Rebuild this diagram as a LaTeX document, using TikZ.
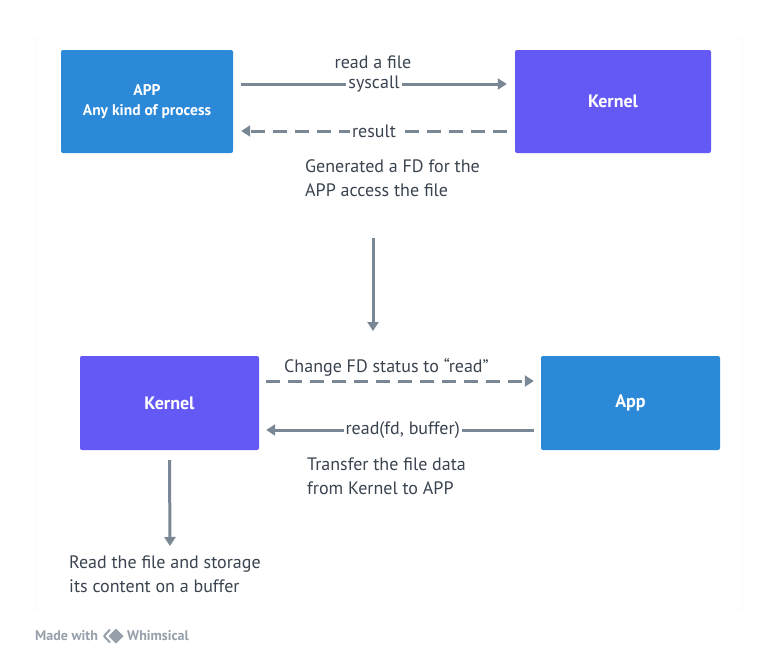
\documentclass[tikz,border=0pt]{standalone}
\usepackage{fontspec}
\setmainfont{PT Sans}
\usetikzlibrary{arrows.meta}
\definecolor{appblue}{RGB}{43,137,216}
\definecolor{kernpurple}{RGB}{101,89,245}
\definecolor{conngrey}{RGB}{122,135,148}
\definecolor{txtdark}{RGB}{58,68,80}
\definecolor{footgrey}{RGB}{150,160,170}
\tikzset{
  boxbase/.style={rectangle, rounded corners=2pt, text=white, font=\fontsize{18}{20}\selectfont\bfseries, align=center, inner sep=0pt},
  appbox/.style={boxbase, fill=appblue},
  kernbox/.style={boxbase, fill=kernpurple},
  conn/.style={draw=conngrey, line width=3pt, -{Triangle[length=9pt,width=11pt]}},
  dconn/.style={conn, dash pattern=on 14pt off 8pt},
  lbl/.style={fill=white, text=txtdark, font=\fontsize{18}{24}\selectfont, inner sep=2pt},
  note/.style={text=txtdark, font=\fontsize{18}{24}\selectfont, align=left, inner sep=0pt, anchor=west},
}
\begin{document}
\begin{tikzpicture}[x=1pt,y=-1pt]
\useasboundingbox (0,0) rectangle (777,662);
\fill[white] (0,0) rectangle (777,662);
% card
\draw[black!4, fill=white, rounded corners=4pt] (35,38) rectangle (742,610);
% boxes
\node[appbox, minimum width=172pt, minimum height=103pt, font=\fontsize{15.5}{20}\selectfont\bfseries] (app) at (147,101.5) {APP\\Any kind of process};
\node[kernbox, minimum width=196pt, minimum height=103pt] (kern1) at (613,101.5) {Kernel};
\node[kernbox, minimum width=179pt, minimum height=94pt] (kern2) at (169.5,403) {Kernel};
\node[appbox, minimum width=179pt, minimum height=94pt] (app2) at (630.5,403) {App};
% top arrows
\draw[conn] ([xshift=8pt,yshift=17.5pt]app.east) -- ([xshift=-8pt,yshift=17.5pt]kern1.west)
  node[lbl, pos=0.5] (sys) {syscall};
\node[text=txtdark, font=\fontsize{18}{24}\selectfont, inner sep=0pt] (rdf) at (373,62) {read a file};
\draw[dconn] ([xshift=-8pt,yshift=-29.5pt]kern1.west) -- ([xshift=8pt,yshift=-29.5pt]app.east)
  node[lbl, pos=0.5] (res) {result};
\node[note] (gen) at (305,178) {Generated a FD for the\\APP access the file};
% vertical arrow
\coordinate (v1) at (373,238);
\coordinate (v2) at (373,331);
\draw[conn] (v1) -- (v2);
% bottom arrows
\draw[dconn] ([xshift=7pt,yshift=22pt]kern2.east) -- ([xshift=-7pt,yshift=22pt]app2.west);
\node[text=txtdark, font=\fontsize{18}{24}\selectfont, inner sep=0pt, anchor=west] (chg) at (284,367) {Change FD status to “read”};
\draw[conn] ([xshift=-7pt,yshift=-27pt]app2.west) -- ([xshift=7pt,yshift=-27pt]kern2.east)
  node[lbl, pos=0.49] (rdb) {read(fd, buffer)};
\node[note] (tr) at (307,476) {Transfer the file data\\from Kernel to APP};
% kernel down arrow
\coordinate (v3) at (170,546);
\draw[conn] ([yshift=-10pt]kern2.south) -- (v3);
\node[note] (rd) at (69,574) {Read the file and storage\\its content on a buffer};
% footer
\node[text=footgrey, font=\fontsize{14}{16}\selectfont\bfseries, anchor=west, inner sep=0pt] (made) at (35,636) {Made with};
\draw[footgrey, line width=2pt, line join=round] (110,629.5) -- (104,636) -- (110,642.5);
\fill[footgrey] (116,628.5) -- (123.5,636) -- (116,643.5) -- (108.5,636) -- cycle;
\node[text=footgrey, font=\fontsize{14}{16}\selectfont\bfseries, anchor=west, inner sep=0pt] (whim) at (127,636) {Whimsical};
\end{tikzpicture}
\end{document}
